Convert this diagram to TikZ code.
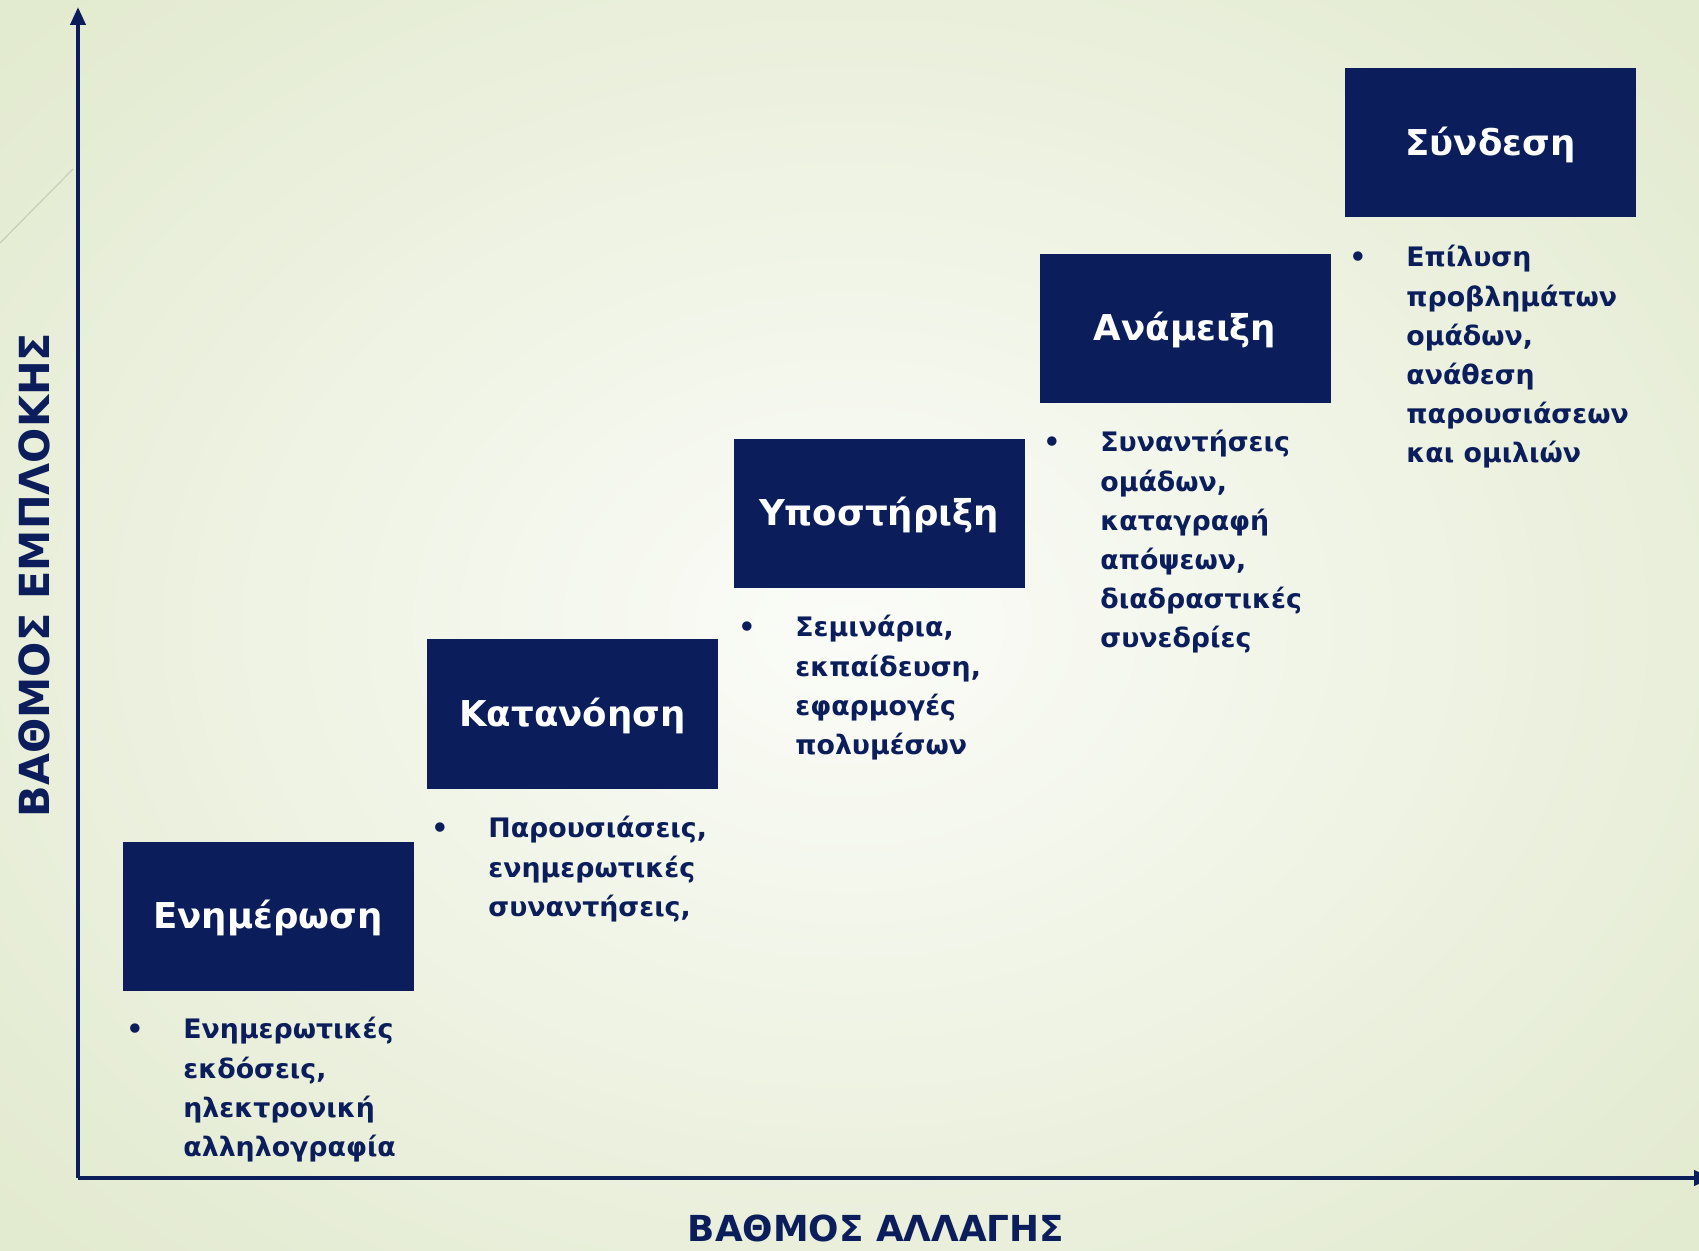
\documentclass[tikz,border=0pt]{standalone}
\usepackage{fontspec}
\setmainfont{DejaVu Sans}
\usetikzlibrary{arrows.meta}

\definecolor{navy}{HTML}{0B1E5B}
\definecolor{bgout}{HTML}{E2EACF}
\definecolor{bgin}{HTML}{FBFCF8}
\definecolor{faint}{HTML}{C9CCBA}

\newcommand{\itemlist}[2]{%
  \fontsize{13.4}{19.6}\selectfont
  \begin{tabular}{@{}p{28.5pt}@{}l@{}}\textbullet & #1\\#2\end{tabular}}

\begin{document}
\begin{tikzpicture}[x=0.5pt, y=-0.5pt,
    stepbox/.style={rectangle, fill=navy, text=white, inner sep=0pt,
      minimum width=145.5pt, minimum height=74.5pt, text depth=2pt,
      font=\fontsize{17.8}{21}\selectfont\bfseries},
    itemtext/.style={anchor=north west, inner sep=0pt, text=navy, font=\bfseries},
    axis/.style={draw=navy, line width=2pt, -{Triangle[length=9pt, width=7.5pt]}},
    axislabel/.style={text=navy, inner sep=0pt, font=\bfseries}]
  \useasboundingbox (0,0) rectangle (1699,1251);
  \shade [inner color=bgin, outer color=bgout] (-300,-250) rectangle (1999,1501);
  \draw [faint, line width=0.6pt] (0,243) -- (73,169);

  % axes
  \coordinate (o) at (78,1178);
  \coordinate (ytop) at (78,7);
  \coordinate (xend) at (1712,1178);
  \draw [axis] (o) -- (ytop);
  \draw [axis] (o) -- (xend);
  \node [axislabel, rotate=90, font=\fontsize{20.7}{24}\selectfont\bfseries] (ylab) at (34,575) {ΒΑΘΜΟΣ ΕΜΠΛΟΚΗΣ};
  \node [axislabel, anchor=base, font=\fontsize{17.9}{22}\selectfont\bfseries] (xlab) at (876,1241) {ΒΑΘΜΟΣ ΑΛΛΑΓΗΣ};

  % steps
  \node [stepbox] (b1) at (268,916) {Ενημέρωση};
  \node [stepbox] (b2) at (572.5,714) {Κατανόηση};
  \node [stepbox] (b3) at (879,513.5) {Υποστήριξη};
  \node [stepbox] (b4) at (1185,328.5) {Ανάμειξη};
  \node [stepbox] (b5) at (1490.5,143) {Σύνδεση};

  \node [itemtext] (t1) at (126,1011) {\itemlist{Ενημερωτικές}{& εκδόσεις,\\& ηλεκτρονική\\& αλληλογραφία}};
  \node [itemtext] (t2) at (431,810) {\itemlist{Παρουσιάσεις,}{& ενημερωτικές\\& συναντήσεις,}};
  \node [itemtext] (t3) at (738,609) {\itemlist{Σεμινάρια,}{& εκπαίδευση,\\& εφαρμογές\\& πολυμέσων}};
  \node [itemtext] (t4) at (1043,424) {\itemlist{Συναντήσεις}{& ομάδων,\\& καταγραφή\\& απόψεων,\\& διαδραστικές\\& συνεδρίες}};
  \node [itemtext] (t5) at (1349,239) {\itemlist{Επίλυση}{& προβλημάτων\\& ομάδων,\\& ανάθεση\\& παρουσιάσεων\\& και ομιλιών}};
\end{tikzpicture}
\end{document}
